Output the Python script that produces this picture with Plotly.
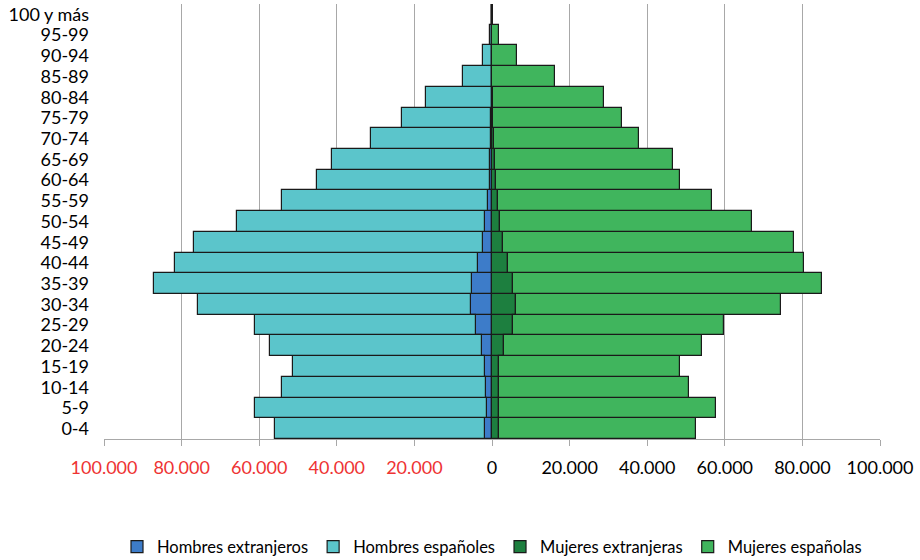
import plotly.graph_objects as go

edades = ["0-4", "5-9", "10-14", "15-19", "20-24", "25-29", "30-34", "35-39",
          "40-44", "45-49", "50-54", "55-59", "60-64", "65-69", "70-74",
          "75-79", "80-84", "85-89", "90-94", "95-99", "100 y más"]

hombres_extranjeros = [1700, 1400, 1550, 1700, 2600, 4000, 5400, 5150, 3700, 2400, 1700,
                       1000, 600, 450, 300, 150, 100, 60, 30, 10, 5]
hombres_espanoles = [54200, 59700, 52500, 49500, 54500, 57000, 70400, 81900, 77900, 74500,
                     64000, 53100, 44600, 40800, 30900, 23000, 17000, 7300, 2250, 400, 100]
mujeres_extranjeras = [1900, 1750, 1750, 1900, 3200, 5300, 6200, 5300, 4000, 2900, 2150,
                       1450, 950, 700, 450, 300, 200, 100, 50, 20, 5]
mujeres_espanolas = [50700, 55900, 48900, 46500, 51000, 54600, 68200, 79800, 76300, 74900,
                     64900, 55300, 47500, 45900, 37400, 33300, 28700, 16100, 6450, 1700, 300]

tick_vals = [-100000, -80000, -60000, -40000, -20000, 0, 20000, 40000, 60000, 80000, 100000]
tick_text = ["100.000", "80.000", "60.000", "40.000", "20.000", "0",
             "20.000", "40.000", "60.000", "80.000", "100.000"]

RED = "#EE3333"
ticks_fmt = [f"<span style='color:{RED}'>{t}</span>" if v < 0 else t
             for v, t in zip(tick_vals, tick_text)]

FONT = "Lato"
edge = dict(color="#1a1a1a", width=1.2)

fig = go.Figure()
fig.add_trace(go.Bar(y=edades, x=[-v for v in hombres_extranjeros], orientation="h",
                     name="Hombres extranjeros", marker=dict(color="#3D7CC9", line=edge)))
fig.add_trace(go.Bar(y=edades, x=[-v for v in hombres_espanoles], orientation="h",
                     name="Hombres españoles", marker=dict(color="#5BC5CB", line=edge)))
fig.add_trace(go.Bar(y=edades, x=mujeres_extranjeras, orientation="h",
                     name="Mujeres extranjeras", marker=dict(color="#1D7F3F", line=edge)))
fig.add_trace(go.Bar(y=edades, x=mujeres_espanolas, orientation="h",
                     name="Mujeres españolas", marker=dict(color="#40B55D", line=edge)))

fig.update_layout(
    width=920, height=560,
    barmode="relative", bargap=0,
    plot_bgcolor="white", paper_bgcolor="white",
    margin=dict(l=104, r=40, t=4, b=121, autoexpand=False),
    font=dict(family=FONT, size=16, color="black"),
    xaxis=dict(range=[-100000, 100000], tickvals=tick_vals, ticktext=ticks_fmt,
               showgrid=True, gridcolor="#A8A8A8", gridwidth=1, zeroline=False,
               showline=True, linecolor="#A8A8A8", linewidth=1,
               ticks="outside", ticklen=6, tickcolor="#A8A8A8", automargin=False,
               ticklabelstandoff=6,
               tickfont=dict(family=FONT, size=18, color="black"), fixedrange=True),
    yaxis=dict(categoryorder="array", categoryarray=edades, showgrid=False,
               tickmode="linear", dtick=1, automargin=False,
               showline=False, ticks="", ticklabelstandoff=14,
               tickfont=dict(family=FONT, size=18, color="black"), fixedrange=True),
    legend=dict(orientation="h", x=0.5, xanchor="center", y=-0.248, yanchor="middle",
                font=dict(family=FONT, size=16.5, color="black"), itemwidth=30,
                traceorder="normal"),
    showlegend=True,
)

fig.write_html("out.html", config={"displayModeBar": False},
               post_script="document.body.style.margin='0px';")
